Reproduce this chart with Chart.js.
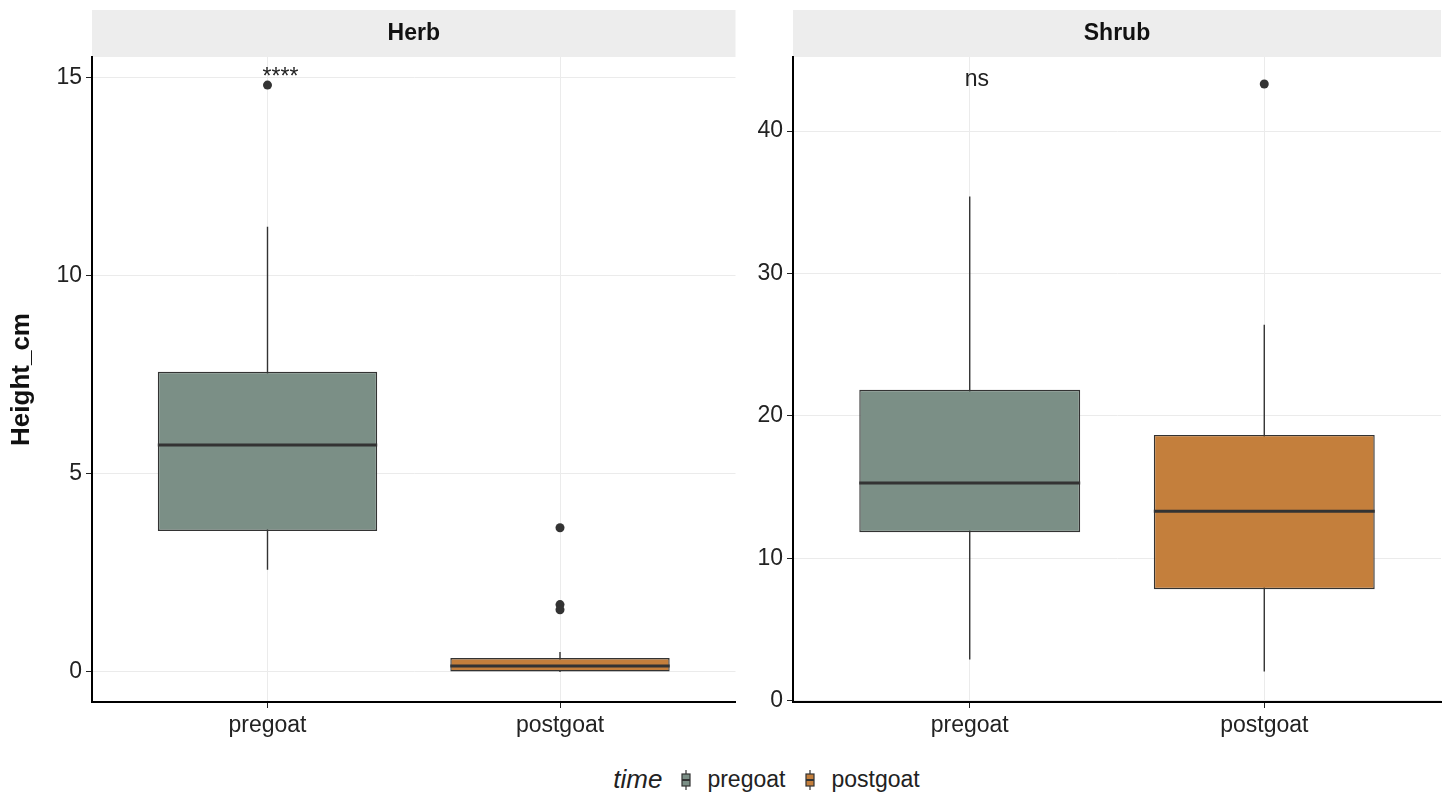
<!DOCTYPE html>
<html lang="en">
<head>
  <meta charset="UTF-8" />
  <title>Height by time – Herb / Shrub</title>
  <script src="https://cdn.jsdelivr.net/npm/chart.js"></script>
  <style>
    body {
      margin: 0;
      background: #fff;
      font-family: 'Liberation Sans', Arial, sans-serif;
    }
    .wrap { position: relative; width: 1448px; height: 794px; }
    .panel { position: absolute; top: 0; height: 760px; }
    #herbBox { left: 0; width: 740px; }
    #shrubBox { left: 740px; width: 708px; }
    .legend {
      position: absolute;
      top: 764px;
      left: 92px;
      width: 1349px;
      display: flex;
      justify-content: center;
      align-items: center;
      color: #222;
      font-size: 23px;
    }
    .legend .title { font-style: italic; font-size: 26px; margin-right: 19px; }
    .legend svg { margin-right: 16px; }
    .legend .lab { margin-right: 20px; }
    .legend .lab:last-child { margin-right: 0; }
  </style>
</head>
<body>
  <div class="wrap">
    <div class="panel" id="herbBox"><canvas id="herbChart"></canvas></div>
    <div class="panel" id="shrubBox"><canvas id="shrubChart"></canvas></div>
    <div class="legend" id="legend"></div>
  </div>

  <script>
    // categories on the x axis (one per facet)
    const categories = ['pregoat', 'postgoat'];
    const groupColors = ['#7b8f86', '#c47f3c'];

    // Herb facet (five-number summary + outliers)
    const herbLow    = [2.58, 0.00];
    const herbQ1     = [3.56, 0.00];
    const herbMedian = [5.73, 0.15];
    const herbQ3     = [7.58, 0.35];
    const herbHigh   = [11.24, 0.50];
    const herbOutPre  = [14.82];
    const herbOutPost = [3.64, 1.70, 1.57];
    const herbTicks  = [0, 5, 10, 15];

    // Shrub facet
    const shrubLow    = [2.89, 2.04];
    const shrubQ1     = [11.83, 7.82];
    const shrubMedian = [15.28, 13.30];
    const shrubQ3     = [21.83, 18.66];
    const shrubHigh   = [35.40, 26.40];
    const shrubOutPre  = [];
    const shrubOutPost = [43.30];
    const shrubTicks  = [0, 10, 20, 30, 40];

    // significance labels
    const herbLabel = '****', herbLabelY = 15.0;
    const shrubLabel = 'ns', shrubLabelY = 43.6;

    const FONT = "'Liberation Sans', Arial, sans-serif";

    // whiskers, medians, strip header and label
    const boxExtras = {
      id: 'boxExtras',
      beforeDraw(chart, args, o) {
        const { ctx, chartArea } = chart;
        ctx.save();
        ctx.fillStyle = '#ededed';
        ctx.fillRect(chartArea.left, 10, chartArea.right - chartArea.left, 47);
        ctx.fillStyle = '#111';
        ctx.font = 'bold 23px ' + FONT;
        ctx.textAlign = 'center';
        ctx.textBaseline = 'middle';
        ctx.fillText(o.strip, (chartArea.left + chartArea.right) / 2, 34);
        ctx.restore();
      },
      beforeDatasetsDraw(chart, args, o) {
        const { ctx } = chart;
        const x = chart.scales.x, y = chart.scales.y;
        ctx.save();
        ctx.strokeStyle = '#333';
        ctx.lineWidth = 1.4;
        o.low.forEach((lo, i) => {
          const px = x.getPixelForValue(i + 1);
          ctx.beginPath();
          ctx.moveTo(px, y.getPixelForValue(lo));
          ctx.lineTo(px, y.getPixelForValue(o.high[i]));
          ctx.stroke();
        });
        ctx.restore();
      },
      afterDatasetsDraw(chart, args, o) {
        const { ctx } = chart;
        const x = chart.scales.x, y = chart.scales.y;
        const bars = chart.getDatasetMeta(0).data;
        ctx.save();
        ctx.strokeStyle = '#333';
        ctx.lineWidth = 3;
        bars.forEach((bar, i) => {
          const py = y.getPixelForValue(o.median[i]);
          ctx.beginPath();
          ctx.moveTo(bar.x - bar.width / 2, py);
          ctx.lineTo(bar.x + bar.width / 2, py);
          ctx.stroke();
        });
        ctx.fillStyle = '#222';
        ctx.font = '23px ' + FONT;
        ctx.textAlign = 'left';
        ctx.textBaseline = 'middle';
        ctx.fillText(o.label, x.getPixelForValue(0.983), y.getPixelForValue(o.labelY));
        ctx.restore();
      }
    };

    function makePanel(id, cfg) {
      const outliers = [];
      cfg.outPre.forEach(v => outliers.push({ x: 1, y: v }));
      cfg.outPost.forEach(v => outliers.push({ x: 2, y: v }));

      return new Chart(document.getElementById(id), {
        type: 'bar',
        data: {
          datasets: [{
            type: 'bar',
            data: categories.map((c, i) => ({ x: i + 1, y: [cfg.q1[i], cfg.q3[i]] })),
            backgroundColor: groupColors,
            borderColor: '#333',
            borderWidth: 1.4,
            borderSkipped: false,
            barPercentage: 0.75,
            categoryPercentage: 1
          }, {
            type: 'scatter',
            data: outliers,
            pointRadius: 4.5,
            pointBackgroundColor: '#333',
            pointBorderWidth: 0
          }]
        },
        options: {
          responsive: true,
          maintainAspectRatio: false,
          animation: false,
          layout: { padding: { top: 57, right: cfg.padRight, left: 0, bottom: 0 } },
          plugins: {
            legend: { display: false },
            tooltip: { enabled: false },
            boxExtras: {
              strip: cfg.strip, low: cfg.low, high: cfg.high, median: cfg.median,
              label: cfg.label, labelY: cfg.labelY
            }
          },
          scales: {
            x: {
              type: 'linear',
              min: 0.4, max: 2.6,
              offset: false,
              afterBuildTicks: s => { s.ticks = categories.map((c, i) => ({ value: i + 1 })); },
              afterFit: s => { s.height = 58; },
              ticks: {
                autoSkip: false, maxRotation: 0, padding: 4,
                color: '#222', font: { family: FONT, size: 23 },
                callback: v => categories[v - 1]
              },
              grid: { offset: false, color: '#ebebeb', lineWidth: 1, tickColor: '#222', tickLength: 6 },
              border: { color: '#000', width: 2 }
            },
            y: {
              min: cfg.yMin, max: cfg.yMax,
              afterBuildTicks: s => { s.ticks = cfg.ticks.map(v => ({ value: v })); },
              afterFit: s => { s.width = cfg.yWidth; },
              ticks: { padding: 4, color: '#222', font: { family: FONT, size: 23 } },
              grid: { color: '#ebebeb', lineWidth: 1, tickColor: '#222', tickLength: 6 },
              border: { color: '#000', width: 2 },
              title: {
                display: !!cfg.yTitle,
                text: cfg.yTitle || '',
                color: '#111',
                padding: { top: 6, bottom: 0 },
                font: { family: FONT, size: 26, weight: 'bold' }
              }
            }
          }
        },
        plugins: [boxExtras]
      });
    }

    makePanel('herbChart', {
      strip: 'Herb', low: herbLow, q1: herbQ1, median: herbMedian, q3: herbQ3, high: herbHigh,
      outPre: herbOutPre, outPost: herbOutPost, ticks: herbTicks,
      label: herbLabel, labelY: herbLabelY,
      yMin: -0.76, yMax: 15.53, yWidth: 92, padRight: 2, yTitle: 'Height_cm'
    });

    makePanel('shrubChart', {
      strip: 'Shrub', low: shrubLow, q1: shrubQ1, median: shrubMedian, q3: shrubQ3, high: shrubHigh,
      outPre: shrubOutPre, outPost: shrubOutPost, ticks: shrubTicks,
      label: shrubLabel, labelY: shrubLabelY,
      yMin: -0.1, yMax: 45.2, yWidth: 53, padRight: 7
    });

    // shared legend with small boxplot keys
    function keyIcon(color) {
      return `<svg width="10" height="22" viewBox="0 0 10 22">
        <line x1="5" y1="1" x2="5" y2="21" stroke="#333" stroke-width="1.2"/>
        <rect x="1" y="5" width="8" height="12" fill="${color}" stroke="#333" stroke-width="1.2"/>
        <line x1="1" y1="11" x2="9" y2="11" stroke="#333" stroke-width="2"/>
      </svg>`;
    }
    const legend = document.getElementById('legend');
    legend.innerHTML = '<span class="title">time</span>' +
      categories.map((c, i) => keyIcon(groupColors[i]) + `<span class="lab">${c}</span>`).join('');
  </script>
</body>
</html>
